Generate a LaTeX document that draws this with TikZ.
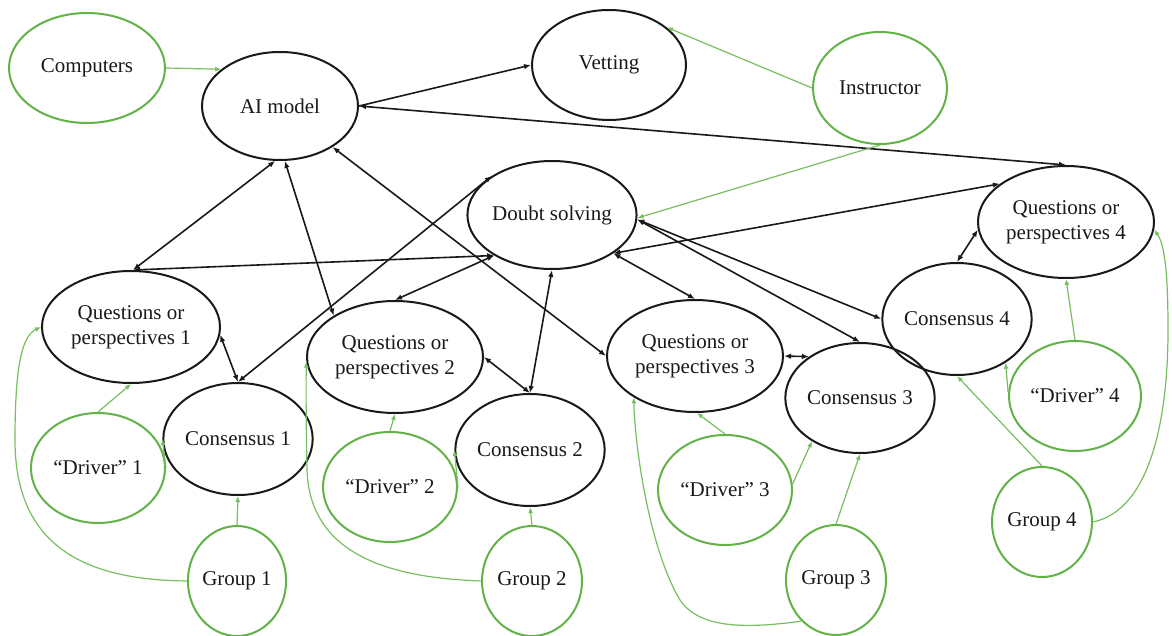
\documentclass[tikz,border=0pt]{standalone}
\usepackage{fontspec}
\setmainfont{Liberation Serif}
\usetikzlibrary{shapes.geometric,arrows.meta}
\definecolor{gr}{RGB}{98,178,72}
\definecolor{grl}{RGB}{118,190,96}
\definecolor{bk}{RGB}{25,25,25}
\tikzset{
 base/.style={ellipse, inner sep=0pt, align=center, font=\fontsize{21}{25}\selectfont, text=bk, line width=2pt},
 bnode/.style={base, draw=bk},
 gnode/.style={base, draw=gr},
 bi/.style={line width=1.6pt, draw=bk, {Latex[length=7pt,width=5.5pt]}-{Latex[length=7pt,width=5.5pt]}},
 one/.style={line width=1.6pt, draw=bk, -{Latex[length=7pt,width=5.5pt]}},
 gar/.style={line width=1.2pt, draw=grl, -{Latex[length=6pt,width=5pt]}},
}
\begin{document}
\begin{tikzpicture}[x=1pt,y=-1pt]
\useasboundingbox (0,0) rectangle (1172,636);
% top row
\node[gnode, minimum width=156pt, minimum height=110pt] (comp) at (87,68) {Computers};
\node[bnode, minimum width=156pt, minimum height=108pt] (ai) at (280,106) {AI model};
\node[bnode, minimum width=154pt, minimum height=110pt] (vet) at (609,65) {Vetting};
\node[gnode, minimum width=134pt, minimum height=112pt] (ins) at (880,88) {Instructor};
\node[bnode, minimum width=156pt, minimum height=108pt] (ds) at (552,215) {Doubt solving};
% questions
\node[bnode, minimum width=178pt, minimum height=112pt] (q1) at (131,327) {Questions or\\perspectives 1};
\node[bnode, minimum width=176pt, minimum height=112pt] (q2) at (395,357) {Questions or\\perspectives 2};
\node[bnode, minimum width=176pt, minimum height=112pt] (q3) at (695,356) {Questions or\\perspectives 3};
\node[bnode, minimum width=176pt, minimum height=112pt] (q4) at (1066,222) {Questions or\\perspectives 4};
% consensus
\node[bnode, minimum width=130pt, minimum height=112pt] (c1) at (238,439) {Consensus 1};
\node[bnode, minimum width=130pt, minimum height=112pt] (c2) at (530,450) {Consensus 2};
\node[bnode, minimum width=130pt, minimum height=110pt] (c3) at (860,398) {Consensus 3};
\node[bnode, minimum width=130pt, minimum height=112pt] (c4) at (957,319) {Consensus 4};
% drivers
\node[gnode, minimum width=134pt, minimum height=110pt] (d1) at (98,468) {“Driver” 1};
\node[gnode, minimum width=134pt, minimum height=110pt] (d2) at (390,487) {“Driver” 2};
\node[gnode, minimum width=134pt, minimum height=110pt] (d3) at (725,490) {“Driver” 3};
\node[gnode, minimum width=132pt, minimum height=110pt] (d4) at (1075,396) {“Driver” 4};
% groups
\node[gnode, minimum width=98pt, minimum height=110pt] (g1) at (237,581) {Group 1};
\node[gnode, minimum width=100pt, minimum height=110pt] (g2) at (532,581) {Group 2};
\node[gnode, minimum width=100pt, minimum height=110pt] (g3) at (836,580) {Group 3};
\node[gnode, minimum width=100pt, minimum height=110pt] (g4) at (1042,522) {Group 4};

% black connectors
\draw[one] (ai.east) -- (vet.west);
\draw[bi] (ai.east) -- (q4.north);
\draw[bi] (ai.-95) -- (q1.88);
\draw[bi] (ai.-85) -- (q2.146);
\draw[bi] (ai.-38) -- (q3.west);
\draw[bi] (ds.147) -- (c1.north);
\draw[bi] (ds.-145) -- (q1.88);
\draw[bi] (ds.-145) -- (q2.north);
\draw[bi] (ds.south) -- (c2.north);
\draw[bi] (ds.-32) -- (q4.150);
\draw[bi] (ds.-32) -- (q3.north);
\draw[bi] (ds.-3) -- (c4.west);
\draw[bi] (ds.-3) -- (c3.north);
\draw[bi] (q1.-5) -- (c1.north);
\draw[bi] (q2.east) -- (c2.north);
\draw[bi] (q3.east) -- (c3.141);
\draw[bi] (q4.-175) -- (c4.north);

% green connectors
\draw[gar] (comp.east) -- (ai.148);
\draw[gar] (ins.west) -- (vet.33);
\draw[gar] (ins.south) -- (ds.-2);
\draw[gar] (d1.north) -- (q1.south);
\draw[gar] (d1.east) -- (c1.west);
\draw[gar] (g1.north) -- (c1.south);
\draw[gar] (g1.west) .. controls (90,580) and (15,550) .. (15,440) .. controls (15,365) and (22,336) .. (q1.west);
\draw[gar] (d2.north) -- (q2.south);
\draw[gar] (d2.east) -- (c2.west);
\draw[gar] (g2.north) -- (c2.south);
\draw[gar] (g2.west) .. controls (400,578) and (310,560) .. (307,470) .. controls (306,420) and (306,385) .. (q2.183);
\draw[gar] (d3.north) -- (q3.-88);
\draw[gar] (d3.5) -- (c3.-138);
\draw[gar] (g3.north) -- (c3.south);
\draw[gar] (g3.-130) .. controls (750,628) and (700,630) .. (680,600) .. controls (650,550) and (635,450) .. (q3.-146);
\draw[gar] (d4.north) -- (q4.south);
\draw[gar] (d4.177) -- (c4.-42);
\draw[gar] (g4.north) -- (c4.south);
\draw[gar] (g4.east) .. controls (1150,510) and (1168,420) .. (1168,330) .. controls (1168,275) and (1165,245) .. (q4.-5);
\end{tikzpicture}
\end{document}
